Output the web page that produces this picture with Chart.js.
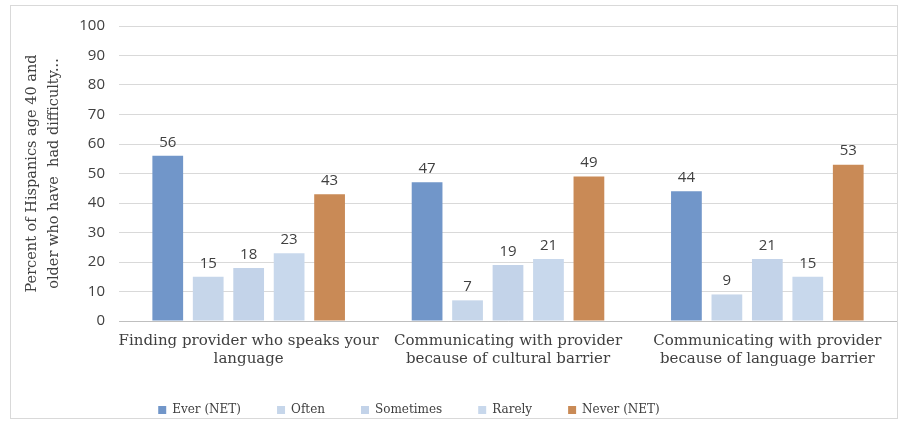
<!DOCTYPE html>
<html>
<head>
<meta charset="utf-8">
<script src="https://cdn.jsdelivr.net/npm/chart.js@4"></script>
<style>
  html, body { margin: 0; padding: 0; background: #fff; }
  #box {
    position: absolute; left: 10px; top: 5px;
    width: 886px; height: 412px;
    border: 1px solid #d9d9d9;
  }
</style>
</head>
<body>
<div id="box"><canvas id="chart"></canvas></div>
<script>
// categorias e séries
const categories = [
  ['Finding provider who speaks your', 'language'],
  ['Communicating with provider', 'because of cultural barrier'],
  ['Communicating with provider', 'because of language barrier']
];
const everNet   = [56, 47, 44];
const often     = [15, 7, 9];
const sometimes = [18, 19, 21];
const rarely    = [23, 21, 15];
const neverNet  = [43, 49, 53];
const yTicks = [0, 10, 20, 30, 40, 50, 60, 70, 80, 90, 100];

const serif = 'DejaVu Serif';
const sans = 'Open Sans';

function serie(label, data, color) {
  return {
    label: label,
    data: data,
    backgroundColor: color,
    borderWidth: 0,
    barPercentage: 0.76,
    categoryPercentage: 0.78
  };
}

// rótulos de valor acima das barras
const valueLabels = {
  id: 'valueLabels',
  afterDatasetsDraw(chart) {
    const ctx = chart.ctx;
    ctx.save();
    ctx.font = '15px "' + sans + '"';
    ctx.fillStyle = '#404040';
    ctx.textAlign = 'center';
    ctx.textBaseline = 'bottom';
    chart.data.datasets.forEach((ds, i) => {
      chart.getDatasetMeta(i).data.forEach((bar, j) => {
        ctx.fillText(ds.data[j], bar.x, bar.y - 6);
      });
    });
    ctx.restore();
  }
};

// reposiciona a legenda (mais à esquerda e um pouco acima)
const legendShift = {
  id: 'legendShift',
  afterLayout(chart) {
    const lg = chart.legend;
    lg.left -= 50;
    lg.right -= 50;
    lg.top -= 19;
    lg.bottom -= 19;
  }
};

new Chart(document.getElementById('chart'), {
  type: 'bar',
  data: {
    labels: categories,
    datasets: [
      serie('Ever (NET)', everNet, '#7196c9'),
      serie('Often', often, '#c6d6ea'),
      serie('Sometimes', sometimes, '#c3d3e9'),
      serie('Rarely', rarely, '#c8d8ec'),
      serie('Never (NET)', neverNet, '#c98a56')
    ]
  },
  options: {
    responsive: true,
    maintainAspectRatio: false,
    animation: false,
    layout: { padding: { left: 10, right: 0, top: 6, bottom: -27 } },
    plugins: {
      tooltip: { enabled: false },
      legend: {
        position: 'bottom',
        labels: {
          color: '#404040',
          font: { family: serif, size: 12 },
          boxWidth: 8,
          boxHeight: 8,
          padding: 36
        }
      }
    },
    scales: {
      x: {
        grid: { display: false },
        border: { color: '#bfbfbf' },
        ticks: {
          color: '#404040',
          font: { family: serif, size: 15, lineHeight: 1.2 },
          maxRotation: 0,
          autoSkip: false,
          padding: 3
        },
        afterFit(scale) { scale.height = 66; }
      },
      y: {
        min: 0,
        max: 100,
        afterBuildTicks(scale) { scale.ticks = yTicks.map(v => ({ value: v })); },
        grid: { color: '#d9d9d9', drawTicks: false },
        border: { display: false },
        ticks: {
          color: '#404040',
          font: { family: sans, size: 15, lineHeight: 0.8 },
          padding: 14
        },
        title: {
          display: true,
          text: ['Percent of Hispanics age 40 and', 'older who have  had difficulty...'],
          color: '#404040',
          font: { family: serif, size: 14.5, lineHeight: 1.55 },
          padding: 0
        },
        afterFit(scale) { scale.width = 98; }
      }
    }
  },
  plugins: [valueLabels, legendShift]
});
</script>
</body>
</html>
